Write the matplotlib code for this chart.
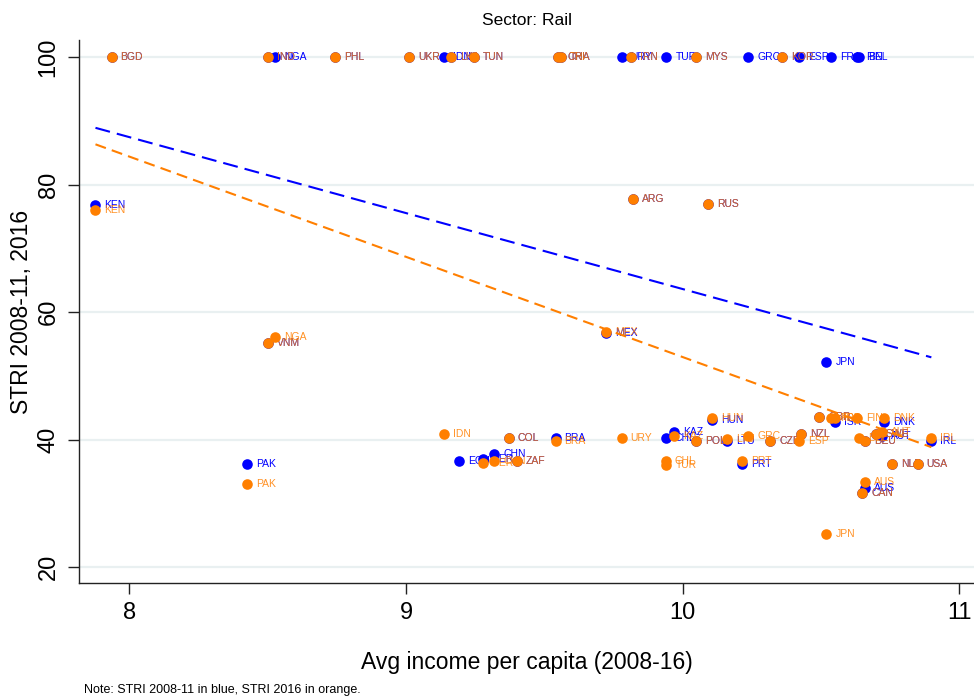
import matplotlib
matplotlib.use('Agg')
import matplotlib.pyplot as plt
import numpy as np

plt.rcParams['font.family'] = ['Liberation Sans', 'DejaVu Sans']

# country codes, avg log income per capita (2008-16), STRI 2008-11 (blue), STRI 2016 (orange)
codes = ['KEN', 'BGD', 'PAK', 'IND', 'VNM', 'NGA', 'PHL', 'UKR', 'IDN', 'LKA',
         'ECU', 'TUN', 'PER', 'CHN', 'COL', 'ZAF', 'BRA', 'CRI', 'THA', 'MEX',
         'URY', 'IRN', 'ARG', 'CHL', 'TUR', 'KAZ', 'MYS', 'POL', 'RUS', 'HUN',
         'LTU', 'PRT', 'GRC', 'CZE', 'KOR', 'ESP', 'NZL', 'GBR', 'JPN', 'FRA',
         'ISR', 'FIN', 'BEL', 'CAN', 'AUS', 'DEU', 'SWE', 'AUT', 'DNK', 'NLD',
         'USA', 'IRL']
income = [7.877, 7.935, 8.426, 8.502, 8.500, 8.525, 8.744, 9.011, 9.137, 9.162,
          9.191, 9.246, 9.278, 9.320, 9.372, 9.400, 9.541, 9.550, 9.560, 9.722,
          9.780, 9.812, 9.820, 9.940, 9.942, 9.968, 10.050, 10.050, 10.094, 10.108,
          10.160, 10.215, 10.238, 10.318, 10.360, 10.422, 10.430, 10.495, 10.520, 10.538,
          10.550, 10.630, 10.640, 10.650, 10.660, 10.660, 10.700, 10.720, 10.730, 10.758,
          10.850, 10.900]
stri_0811 = [76.8, 100, 36.1, 100, 55.2, 100, 100, 100, 100, 100,
             36.6, 100, 36.9, 37.7, 40.2, 36.7, 40.3, 100, 100, 56.7,
             100, 100, 77.7, 40.2, 100, 41.1, 100, 39.7, 77.0, 43.0,
             39.7, 36.1, 100, 39.7, 100, 100, 40.8, 43.5, 52.1, 100,
             42.7, 100, 100, 31.6, 32.4, 39.7, 40.8, 40.5, 42.8, 36.2,
             36.2, 39.8]
stri_2016 = [76.0, 100, 33.0, 100, 55.2, 56.1, 100, 100, 40.9, 100,
             np.nan, 100, 36.3, 36.7, 40.2, 36.7, 39.7, 100, 100, 56.8,
             40.2, 100, 77.7, 36.6, 36.0, 40.5, 100, 39.7, 77.0, 43.3,
             40.1, 36.7, 40.6, 39.7, 100, 39.7, 40.8, 43.5, 25.1, 43.3,
             43.3, 43.4, 40.3, 31.6, 33.4, 39.7, 40.8, 41.1, 43.3, 36.2,
             36.2, 40.3]

blue = '#0000ff'
orange = '#ff7f00'
grid_col = '#e9f0f1'

x = np.array(income)
y1 = np.array(stri_0811, dtype=float)
y2 = np.array(stri_2016, dtype=float)

fig = plt.figure(figsize=(9.74, 6.97), dpi=100)
ax = fig.add_axes([79 / 974, (697 - 583) / 697, (974 - 79) / 974, (583 - 40) / 697])

ax.set_xlim(7.8174, 11.0542)
ax.set_ylim(17.49, 102.67)

ax.set_yticks([20, 40, 60, 80, 100])
ax.set_xticks([8, 9, 10, 11])
for yv in [20, 40, 60, 80, 100]:
    ax.axhline(yv, color=grid_col, linewidth=1.6, zorder=0)

for sp in ['top', 'right']:
    ax.spines[sp].set_visible(False)
for sp in ['left', 'bottom']:
    ax.spines[sp].set_linewidth(1.0)
    ax.spines[sp].set_color('#222222')

ax.tick_params(axis='both', length=8, width=1.0, color='#222222', labelsize=17, pad=6)
for lab in ax.get_yticklabels():
    lab.set_rotation(90)
    lab.set_va('center')

# series 1: STRI 2008-11 (blue)
m1 = ~np.isnan(y1)
ax.scatter(x[m1], y1[m1], s=58, color=blue, linewidths=0, zorder=3)
for c, xi, yi in zip(np.array(codes)[m1], x[m1], y1[m1]):
    ax.annotate(c, (xi, yi), xytext=(6.5, 0), textcoords='offset points',
                va='center', ha='left', fontsize=7.5, color=blue, zorder=3)

# series 2: STRI 2016 (orange), labels a bit see-through so overlaps look brown
m2 = ~np.isnan(y2)
ax.scatter(x[m2], y2[m2], s=58, color=orange, linewidths=0, zorder=4)
for c, xi, yi in zip(np.array(codes)[m2], x[m2], y2[m2]):
    ax.annotate(c, (xi, yi), xytext=(6.5, 0), textcoords='offset points',
                va='center', ha='left', fontsize=7.5, color=orange, alpha=0.85, zorder=4)

# linear fits
for yy, mm, col, dash in [(y1, m1, blue, (7.2, 3.4)), (y2, m2, orange, (5.3, 3.0))]:
    b, a = np.polyfit(x[mm], yy[mm], 1)
    xs = np.array([x[mm].min(), x[mm].max()])
    ax.plot(xs, a + b * xs, color=col, linewidth=1.5, dashes=dash, zorder=5)

ax.set_ylabel('STRI 2008-11, 2016', fontsize=16.5, labelpad=3)
ax.set_xlabel('Avg income per capita (2008-16)', fontsize=16.5, labelpad=19)
ax.set_title('Sector: Rail', fontsize=12.5, pad=11)

fig.text(84 / 974, 1 - 690 / 697, 'Note: STRI 2008-11 in blue, STRI 2016 in orange.',
         fontsize=9, va='center', ha='left')

fig.savefig('out.png', dpi=100, facecolor='white')
